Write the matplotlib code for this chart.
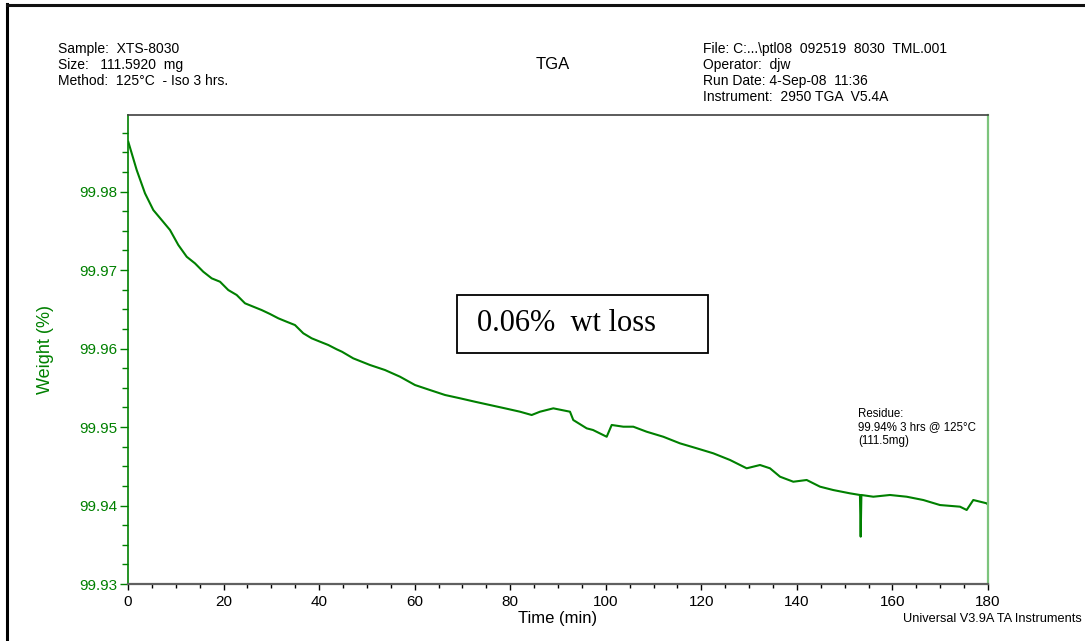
import matplotlib
matplotlib.use("Agg")
import matplotlib.pyplot as plt
from matplotlib.lines import Line2D
from matplotlib.patches import Rectangle
from matplotlib.ticker import MultipleLocator

plt.rcParams['font.family'] = ['Liberation Sans', 'DejaVu Sans']

# TGA isothermal run, weight (%) vs time (min)
time_min = [0.06, 1.82, 3.56, 5.30, 7.05, 8.79, 10.53, 12.29, 14.02, 15.76,
            17.52, 19.26, 20.99, 22.75, 24.49, 26.23, 27.98, 29.72, 31.46, 33.22,
            34.95, 36.69, 38.45, 40.19, 41.92, 43.68, 44.79, 47.14, 50.65, 53.79,
            56.93, 60.07, 63.21, 66.35, 69.49, 72.63, 75.77, 78.91, 82.05, 84.49,
            86.23, 89.02, 92.51, 93.20, 96.01, 97.33, 100.19, 101.24, 103.67, 105.76,
            108.56, 112.04, 115.53, 119.03, 122.50, 126.00, 129.49, 132.28, 134.37, 136.47,
            139.25, 142.05, 144.84, 147.62, 151.12, 153.20, 153.35, 153.50, 155.99, 159.49,
            162.98, 166.46, 169.95, 174.14, 175.54, 176.92, 179.72, 180.0]
weight_pct = [99.98634, 99.98274, 99.97977, 99.97764, 99.97637, 99.97510, 99.97319, 99.97169, 99.97085, 99.96978,
              99.96894, 99.96851, 99.96745, 99.96682, 99.96576, 99.96533, 99.96490, 99.96440, 99.96385, 99.96341,
              99.96299, 99.96194, 99.96130, 99.96087, 99.96045, 99.95990, 99.95959, 99.95875, 99.95790, 99.95726,
              99.95641, 99.95535, 99.95471, 99.95408, 99.95366, 99.95322, 99.95280, 99.95238, 99.95195, 99.95153,
              99.95195, 99.95238, 99.95195, 99.95089, 99.94983, 99.94962, 99.94876, 99.95026, 99.95004, 99.95004,
              99.94940, 99.94876, 99.94792, 99.94729, 99.94665, 99.94580, 99.94474, 99.94516, 99.94474, 99.94367,
              99.94303, 99.94325, 99.94240, 99.94197, 99.94155, 99.94134, 99.93603, 99.94134, 99.94112, 99.94134,
              99.94112, 99.94070, 99.94006, 99.93985, 99.93943, 99.94070, 99.94028, 99.94010]

x_ticks = [0, 20, 40, 60, 80, 100, 120, 140, 160, 180]
y_ticks = [99.93, 99.94, 99.95, 99.96, 99.97, 99.98]

green = '#008000'

fig = plt.figure(figsize=(10.85, 6.41), dpi=100)
ax = fig.add_axes([0.11797, 0.08892, 0.79263, 0.73167])

ax.plot(time_min, weight_pct, color=green, lw=1.5)

ax.set_xlim(0, 180)
ax.set_ylim(99.93, 99.98975)
ax.set_xticks(x_ticks)
ax.set_yticks(y_ticks)
ax.set_yticklabels(['%.2f' % v for v in y_ticks])
ax.xaxis.set_minor_locator(MultipleLocator(5))
ax.yaxis.set_minor_locator(MultipleLocator(0.0025))

ax.tick_params(axis='x', which='major', length=4, width=1, colors='black', labelsize=11, pad=4)
ax.tick_params(axis='x', which='minor', length=3, width=1, colors='black')
ax.tick_params(axis='y', which='major', length=6, width=1, colors=green, labelsize=11, pad=2)
ax.tick_params(axis='y', which='minor', length=4, width=1, colors=green)

ax.spines['left'].set_color(green)
ax.spines['left'].set_linewidth(1.2)
ax.spines['right'].set_color('#7cc47c')
ax.spines['right'].set_linewidth(1.6)
ax.spines['top'].set_color('#404040')
ax.spines['top'].set_linewidth(1.2)
ax.spines['bottom'].set_color('#606060')
ax.spines['bottom'].set_linewidth(1.6)

ax.set_xlabel('Time (min)', fontsize=12, labelpad=1)
fig.text(45 / 1085, 1 - 350 / 641, 'Weight (%)', color=green, fontsize=13,
         rotation=90, ha='center', va='center')

# loss annotation box
ax.add_patch(Rectangle((0.3826, 0.4925), 0.2918, 0.1237, transform=ax.transAxes,
                       fill=False, edgecolor='black', lw=1.3, zorder=5))
ax.text(0.4058, 0.5565, '0.06%  wt loss', transform=ax.transAxes,
        family=['Liberation Serif', 'DejaVu Serif'], fontsize=22,
        ha='left', va='center')

ax.text(0.8488, 0.375, 'Residue:\n99.94% 3 hrs @ 125°C\n(111.5mg)',
        transform=ax.transAxes, fontsize=8.3, ha='left', va='top', linespacing=1.15)

# header block
fig.text(0.0535, 1 - 53 / 641, 'Sample:  XTS-8030', fontsize=10, va='baseline')
fig.text(0.0535, 1 - 69 / 641, 'Size:   111.5920  mg', fontsize=10, va='baseline')
fig.text(0.0535, 1 - 85 / 641, 'Method:  125°C  - Iso 3 hrs.', fontsize=10, va='baseline')

fig.text(553 / 1085, 1 - 69 / 641, 'TGA', fontsize=12, ha='center', va='baseline')

fig.text(703 / 1085, 1 - 53 / 641, 'File: C:...\\ptl08  092519  8030  TML.001', fontsize=10, va='baseline')
fig.text(703 / 1085, 1 - 69 / 641, 'Operator:  djw', fontsize=10, va='baseline')
fig.text(703 / 1085, 1 - 85 / 641, 'Run Date: 4-Sep-08  11:36', fontsize=10, va='baseline')
fig.text(703 / 1085, 1 - 101 / 641, 'Instrument:  2950 TGA  V5.4A', fontsize=10, va='baseline')

fig.text(1082 / 1085, 1 - 622 / 641, 'Universal V3.9A TA Instruments', fontsize=9.2,
         ha='right', va='baseline')

# page frame on left and top edges
fig.add_artist(Line2D([7 / 1085, 7 / 1085], [0, 1 - 4 / 641], transform=fig.transFigure,
                      color='black', lw=2.2))
fig.add_artist(Line2D([7 / 1085, 1], [1 - 5 / 641, 1 - 5 / 641], transform=fig.transFigure,
                      color='#111111', lw=2.2))

fig.savefig('out.png', dpi=100)
